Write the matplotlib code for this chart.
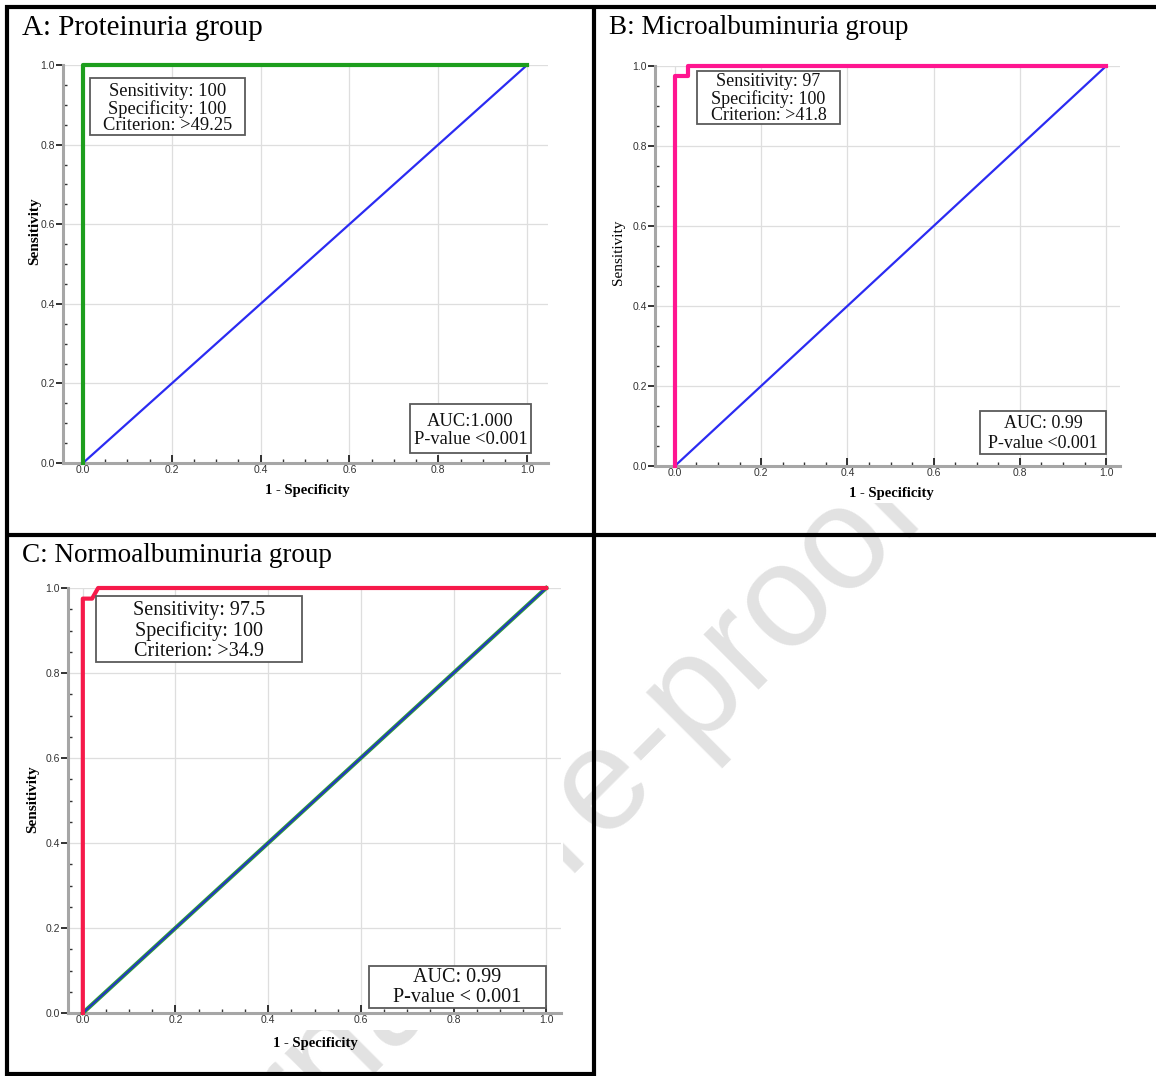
import numpy as np
import matplotlib
matplotlib.use("Agg")
import matplotlib.pyplot as plt
from matplotlib.patches import Rectangle
from matplotlib.lines import Line2D
from matplotlib.ticker import MultipleLocator

W, H = 1156, 1076

# ---------------- data ----------------
fpr_A = [0.0, 0.0, 1.0]
tpr_A = [0.0, 1.0, 1.0]
fpr_B = [0.0, 0.0, 0.03, 0.03, 1.0]
tpr_B = [0.0, 0.975, 0.975, 1.0, 1.0]
fpr_C = [0.0, 0.0, 0.02, 0.033, 1.0]
tpr_C = [0.0, 0.975, 0.975, 1.0, 1.0]
ref_x = [0.0, 1.0]
ref_y = [0.0, 1.0]

titles = ["A: Proteinuria group", "B: Microalbuminuria group", "C: Normoalbuminuria group"]
stats_A = ["Sensitivity: 100", "Specificity: 100", "Criterion: >49.25"]
stats_B = ["Sensitivity: 97", "Specificity: 100", "Criterion: >41.8"]
stats_C = ["Sensitivity: 97.5", "Specificity: 100", "Criterion: >34.9"]
auc_A = ["AUC:1.000", "P-value <0.001"]
auc_B = ["AUC: 0.99", "P-value <0.001"]
auc_C = ["AUC: 0.99", "P-value < 0.001"]
tick_vals = [0.0, 0.2, 0.4, 0.6, 0.8, 1.0]
tick_labels = ["0.0", "0.2", "0.4", "0.6", "0.8", "1.0"]

SERIF = ["Liberation Serif", "DejaVu Serif"]
SANS = ["Liberation Sans", "DejaVu Sans"]

fig = plt.figure(figsize=(W / 100, H / 100), dpi=100)
fig.patch.set_facecolor("white")


def fx(x):
    return x / W


def fy(y):
    return 1 - y / H


def add_axes_px(left, right, top, bottom):
    return fig.add_axes([fx(left), fy(bottom), (right - left) / W, (bottom - top) / H])


# watermark (behind the chart images)
fig.text(fx(505), fy(890), "Journal Pre-proof", rotation=45, rotation_mode="anchor",
         ha="center", va="center", fontsize=105, family=SANS, color="#e2e2e2", zorder=-5)

# opaque chart image backgrounds that hide the watermark
for (x0, y0, x1, y1) in [(10, 10, 592, 533), (598, 10, 1156, 503), (10, 538, 563, 1030)]:
    fig.add_artist(Rectangle((fx(x0), fy(y1)), (x1 - x0) / W, (y1 - y0) / H,
                             transform=fig.transFigure, facecolor="white",
                             edgecolor="none", zorder=-4))

# table borders
lw_b = 3.0
for (x0, y0, x1, y1) in [(5, 7, 1156, 7), (7, 5, 7, 1076), (594, 5, 594, 1076),
                         (5, 535, 1156, 535), (5, 1074, 596, 1074)]:
    fig.add_artist(Line2D([fx(x0), fx(x1)], [fy(y0), fy(y1)], transform=fig.transFigure,
                          color="black", lw=lw_b, solid_capstyle="butt", zorder=10))


def style_axes(ax, xl, xr):
    ax.set_facecolor("white")
    ax.set_xlim(xl, xr)
    ax.set_ylim(0, 1.0)
    ax.set_xticks(tick_vals)
    ax.set_xticklabels(tick_labels)
    ax.set_yticks(tick_vals)
    ax.set_yticklabels(tick_labels)
    ax.xaxis.set_minor_locator(MultipleLocator(0.05))
    ax.yaxis.set_minor_locator(MultipleLocator(0.05))
    ax.grid(True, which="major", color="#dedede", lw=0.9)
    ax.set_axisbelow(True)
    for s in ["top", "right"]:
        ax.spines[s].set_visible(False)
    for s in ["left", "bottom"]:
        ax.spines[s].set_color("#a6a6a6")
        ax.spines[s].set_linewidth(2.2)
    ax.tick_params(axis="x", which="major", direction="in", length=6, width=1.3,
                   color="#222222", labelsize=7.5, pad=1.5, labelcolor="#333333")
    ax.tick_params(axis="x", which="minor", direction="in", length=3, width=1.0, color="#333333")
    ax.tick_params(axis="y", which="major", direction="out", length=5, width=1.3,
                   color="#222222", labelsize=7.5, pad=1, labelcolor="#333333")
    ax.tick_params(axis="y", which="minor", direction="in", length=3, width=1.0, color="#333333")
    for lab in ax.get_xticklabels() + ax.get_yticklabels():
        lab.set_family(SANS)


def box(x0, y0, x1, y1, lines, ys, fs, xc=None):
    fig.add_artist(Rectangle((fx(x0), fy(y1)), (x1 - x0) / W, (y1 - y0) / H,
                             transform=fig.transFigure, facecolor="white",
                             edgecolor="#5a5a5a", lw=1.3, zorder=5))
    if xc is None:
        xc = (x0 + x1) / 2
    for t, yy in zip(lines, ys):
        fig.text(fx(xc), fy(yy), t, ha="center", va="center", fontsize=fs,
                 family=SERIF, color="#111111", zorder=6)


# ---------------- Panel A ----------------
axA = add_axes_px(63, 548, 65, 463)
style_axes(axA, -0.045, 1.047)
axA.plot(ref_x, ref_y, color="#2b2bf2", lw=1.6, zorder=3, clip_on=False)
axA.plot(fpr_A, tpr_A, color="#1d9e1d", lw=3.0, zorder=4, clip_on=False)
fig.text(fx(22), fy(28), titles[0], ha="left", va="center", fontsize=21, family=SERIF)
fig.text(fx(307), fy(490), "1 - Specificity", ha="center", va="center", fontsize=10.5,
         family=SERIF, fontweight="bold")
fig.text(fx(35), fy(231), "Sensitivity", ha="center", va="center", fontsize=11,
         family=SERIF, fontweight="bold", rotation=90)
box(90, 78, 245, 135, stats_A, [91, 109, 126], 13.3)
box(410, 404, 531, 453, auc_A, [421, 440], 13.3)

# ---------------- Panel B ----------------
axB = add_axes_px(655, 1120, 66, 466)
style_axes(axB, -0.046, 1.032)
axB.plot(ref_x, ref_y, color="#2b2bf2", lw=1.6, zorder=3, clip_on=False)
axB.plot(fpr_B, tpr_B, color="#ff1590", lw=3.0, zorder=4, clip_on=False)
fig.text(fx(609), fy(28), titles[1], ha="left", va="center", fontsize=19.5, family=SERIF)
fig.text(fx(891), fy(493), "1 - Specificity", ha="center", va="center", fontsize=10.5,
         family=SERIF, fontweight="bold")
fig.text(fx(619), fy(252), "Sensitivity", ha="center", va="center", fontsize=11,
         family=SERIF, fontweight="normal", rotation=90)
box(697, 71, 840, 124, stats_B, [81, 99, 116], 13)
box(980, 411, 1106, 454, auc_B, [424, 443], 13)

# ---------------- Panel C ----------------
axC = add_axes_px(68, 561, 588, 1013)
style_axes(axC, -0.032, 1.032)
axC.plot(ref_x, ref_y, color="#2e9a3c", lw=3.0, zorder=3, clip_on=False)
axC.plot(ref_x, ref_y, color="#2233c8", lw=1.4, zorder=3.5, clip_on=False)
axC.plot(fpr_C, tpr_C, color="#f61a4a", lw=3.0, zorder=4, clip_on=False)
fig.text(fx(22), fy(555), titles[2], ha="left", va="center", fontsize=19.5, family=SERIF)
fig.text(fx(315), fy(1044), "1 - Specificity", ha="center", va="center", fontsize=10.5,
         family=SERIF, fontweight="bold")
fig.text(fx(33), fy(799), "Sensitivity", ha="center", va="center", fontsize=11,
         family=SERIF, fontweight="bold", rotation=90)
box(96, 596, 302, 662, stats_C, [611, 631, 651], 14.5)
box(369, 966, 546, 1008, auc_C, [977, 998], 14.5)

fig.savefig("out.png", dpi=100, facecolor="white")
